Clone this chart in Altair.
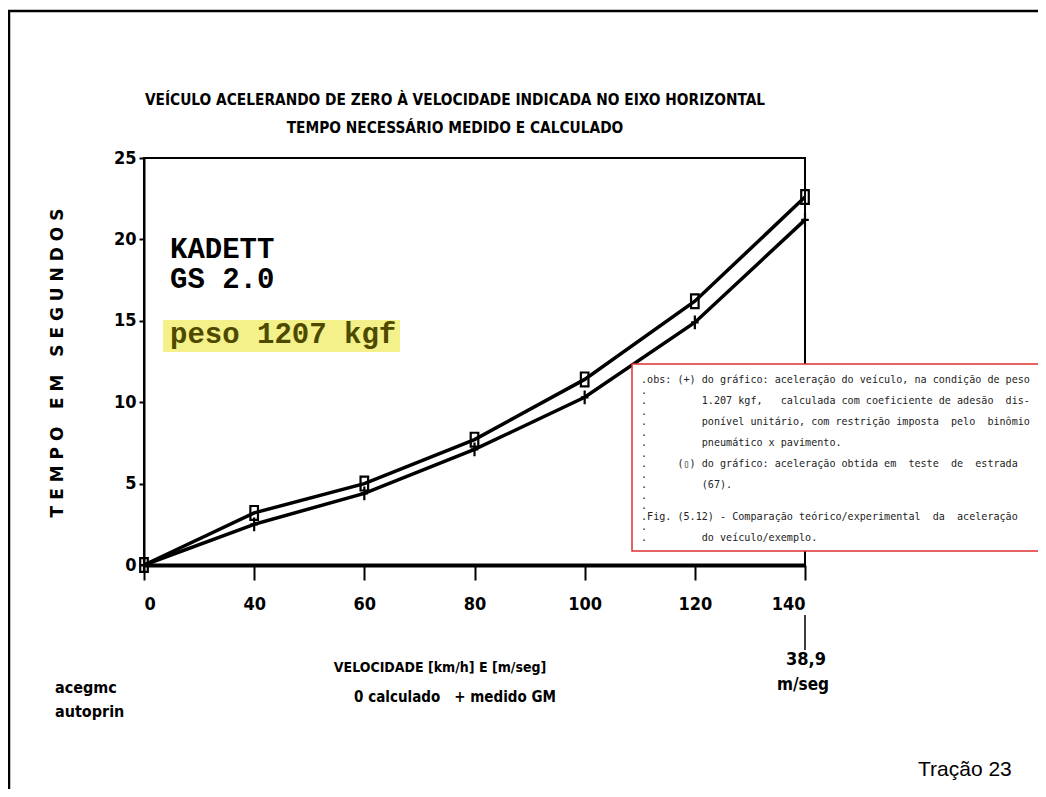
import altair as alt
import pandas as pd

# ---- data ----
speeds = [0, 40, 60, 80, 100, 120, 140]            # km/h (axis categories, evenly spaced)
calculado = [0, 3.2, 5.0, 7.7, 11.4, 16.2, 22.6]   # s, squares
medido = [0, 2.5, 4.4, 7.1, 10.3, 14.9, 21.2]      # s, "+"
y_ticks = [0, 5, 10, 15, 20, 25]

rows = []
for i, s in enumerate(speeds):
    rows.append({"pos": i, "speed": s, "serie": "calculado", "tempo": calculado[i]})
    rows.append({"pos": i, "speed": s, "serie": "medido", "tempo": medido[i]})
df = pd.DataFrame(rows)

W, H = 661, 407
NARROW = "Liberation Sans Narrow, DejaVu Sans Condensed, Arial Narrow, sans-serif"
MONO = "DejaVu Sans Mono, Liberation Mono, monospace"
SLAB = "Liberation Mono, Courier New, monospace"

label_expr = "[" + ",".join("'%d'" % s for s in speeds) + "][datum.value]"

x_enc = alt.X("pos:Q", scale=alt.Scale(domain=[0, len(speeds) - 1], nice=False),
              axis=alt.Axis(values=list(range(len(speeds))), labelExpr=label_expr, title="",
                            grid=False, domainWidth=4, domainColor="black", tickSize=15,
                            tickWidth=2, tickColor="black", labelPadding=15,
                            labelFont=NARROW, labelFontWeight="bold", labelFontSize=18,
                            labelColor="black", labelBaseline="top"))
y_enc = alt.Y("tempo:Q", scale=alt.Scale(domain=[0, 25], nice=False),
              axis=alt.Axis(values=y_ticks, title="", grid=False, domainWidth=2,
                            domainColor="black", tickSize=5, tickWidth=2, tickColor="black",
                            labelPadding=3, labelFont=NARROW, labelFontWeight="bold",
                            labelFontSize=18, labelColor="black"))

one = alt.Data(values=[{"a": 1}])


def txt(s, x, y, **kw):
    return alt.Chart(one).mark_text(text=s, **kw).encode(x=alt.value(x), y=alt.value(y))


frame = alt.Chart(one).mark_rect(fill="transparent", stroke="black", strokeWidth=2.5).encode(
    x=alt.value(-135), x2=alt.value(930), y=alt.value(-147), y2=alt.value(660))

highlight = alt.Chart(one).mark_rect(fill="#f4f08a").encode(
    x=alt.value(19), x2=alt.value(256), y=alt.value(162), y2=alt.value(194))

base = alt.Chart(df)
lines = base.mark_line(color="black", strokeWidth=3.5, interpolate="linear").encode(
    x=x_enc, y=y_enc, detail="serie:N")

square_path = "M-0.55,-1L0.55,-1L0.55,1L-0.55,1Z"
plus_path = "M0,-1L0,1M-0.55,0L0.55,0"
points = base.mark_point(color="black", filled=False, strokeWidth=2.2, size=190, opacity=1).encode(
    x=x_enc, y=y_enc,
    shape=alt.Shape("serie:N", scale=alt.Scale(domain=["calculado", "medido"],
                                                range=[square_path, plus_path]), legend=None))

redbox = alt.Chart(one).mark_rect(fill="white", stroke="#e03030", strokeWidth=1.5).encode(
    x=alt.value(488), x2=alt.value(940), y=alt.value(206), y2=alt.value(393))

nb = "\u00a0"
ind = "." + nb * 9
note_lines = [
    ".obs:" + nb + "(+)" + nb + "do gráfico: aceleração do veículo, na condição de peso",
    ".",
    ind + "1.207 kgf," + nb * 3 + "calculada com coeficiente de adesão" + nb * 2 + "dis-",
    ".",
    ind + "ponível unitário, com restrição imposta" + nb * 2 + "pelo" + nb * 2 + "binômio",
    ".",
    ind + "pneumático x pavimento.",
    ".",
    "." + nb * 5 + "(▯) do gráfico: aceleração obtida em" + nb * 2 + "teste" + nb * 2 + "de" + nb * 2 + "estrada",
    ".",
    ind + "(67).",
    ".",
    ".",
    ".Fig. (5.12) - Comparação teórico/experimental" + nb * 2 + "da" + nb * 2 + "aceleração",
    ".",
    ind + "do veículo/exemplo.",
]
note = alt.Chart(one).mark_text(text=note_lines, font=MONO, fontSize=10.1, lineHeight=10.53,
                                align="left", baseline="middle", color="#222222").encode(
    x=alt.value(497), y=alt.value(222))

t_kw = dict(font=NARROW, fontWeight="bold", color="black", baseline="middle")
texts = [
    txt("VEÍCULO ACELERANDO DE ZERO À VELOCIDADE INDICADA NO EIXO HORIZONTAL", 311, -58,
        fontSize=15.3, align="center", **t_kw),
    txt("TEMPO NECESSÁRIO MEDIDO E CALCULADO", 311, -30, fontSize=15.3, align="center", **t_kw),
    txt("KADETT", 26, 91, font=SLAB, fontWeight="bold", fontSize=29, align="left",
        baseline="middle", color="black"),
    txt("GS 2.0", 26, 121, font=SLAB, fontWeight="bold", fontSize=29, align="left",
        baseline="middle", color="black"),
    txt("peso 1207 kgf", 26, 185, font=SLAB, fontWeight="bold", fontSize=29, align="left",
        baseline="alphabetic", color="#4d4a00"),
    txt("T E M P O   E M   S E G U N D O S".replace(" ", nb), -86, 205, font="DejaVu Sans",
        fontWeight="bold", fontSize=17, angle=270, align="center", baseline="middle",
        color="black"),
    txt("VELOCIDADE [km/h] E [m/seg]", 296, 510, fontSize=14, align="center", **t_kw),
    txt("0 calculado" + nb * 3 + "+ medido GM", 311, 539, fontSize=15, align="center", **t_kw),
    txt("acegmc", -89, 530, fontSize=16, align="left", **t_kw),
    txt("autoprin", -89, 554, fontSize=16, align="left", **t_kw),
    txt("38,9", 662, 502, fontSize=18, align="center", **t_kw),
    txt("m/seg", 659, 527, fontSize=17, align="center", **t_kw),
    txt("Tração 23", 774, 612, font="Liberation Sans, Arial, sans-serif", fontSize=21,
        align="left", baseline="middle", color="black"),
]

tick_ext = alt.Chart(one).mark_rule(color="black", strokeWidth=1.5).encode(
    x=alt.value(661), y=alt.value(457), y2=alt.value(492))

chart = alt.layer(frame, highlight, lines, points, redbox, note, tick_ext, *texts).properties(
    width=W, height=H,
    padding={"left": 136, "top": 150, "right": 233, "bottom": 224},
    autosize=alt.AutoSizeParams(type="none"),
    background="white",
).configure_view(stroke="black", strokeWidth=2)

chart.save("out.html", embed_options={"renderer": "svg", "actions": False})
